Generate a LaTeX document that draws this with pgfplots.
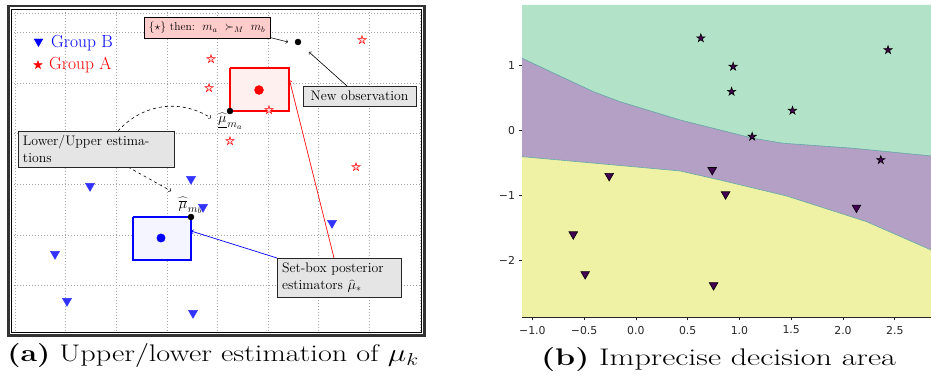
\documentclass[border=0pt]{standalone}
\usepackage{fontspec}
\usepackage{graphicx}
\usepackage{pgfplots}
\pgfplotsset{compat=1.18}
\newfontfamily\dejavu{DejaVu Sans}
\definecolor{cgreen}{RGB}{178,227,200}
\definecolor{cpurple}{RGB}{179,160,196}
\definecolor{cyellow}{RGB}{239,241,165}
\definecolor{vpurple}{RGB}{68,1,84}
\definecolor{cline}{RGB}{95,165,165}
\pgfdeclareplotmark{fivestar}{%
  \pgfpathmoveto{\pgfpointpolar{90}{\pgfplotmarksize}}%
  \pgfpathlineto{\pgfpointpolar{126}{0.382\pgfplotmarksize}}%
  \pgfpathlineto{\pgfpointpolar{162}{\pgfplotmarksize}}%
  \pgfpathlineto{\pgfpointpolar{198}{0.382\pgfplotmarksize}}%
  \pgfpathlineto{\pgfpointpolar{234}{\pgfplotmarksize}}%
  \pgfpathlineto{\pgfpointpolar{270}{0.382\pgfplotmarksize}}%
  \pgfpathlineto{\pgfpointpolar{306}{\pgfplotmarksize}}%
  \pgfpathlineto{\pgfpointpolar{342}{0.382\pgfplotmarksize}}%
  \pgfpathlineto{\pgfpointpolar{18}{\pgfplotmarksize}}%
  \pgfpathlineto{\pgfpointpolar{54}{0.382\pgfplotmarksize}}%
  \pgfpathclose
  \pgfusepathqfillstroke
}
\tikzset{
  gbox/.style={draw=black!85, line width=0.9pt, fill=black!10, inner xsep=5pt, inner ysep=3pt, align=left, font=\fontsize{13.8}{16.5}\selectfont},
}
\begin{document}
\begin{tikzpicture}
\path[use as bounding box] (0pt,0pt) rectangle (931pt,385pt);
% ---------------- panel (a) ----------------
\begin{axis}[
  at={(11pt,53pt)}, anchor=south west, scale only axis,
  width=410pt, height=323pt,
  xmin=11, xmax=421, ymin=9, ymax=332, y dir=reverse,
  clip=false,
  xtick={15,65.6,116.2,166.8,217.4,268,318.6,369.2,419.8},
  ytick={13.3,32.3,83,133.7,184.4,235,285.7},
  xticklabels={}, yticklabels={},
  major tick length=0pt, tick style={draw=none},
  grid=major,
  grid style={gray!70, line width=0.6pt, dash pattern=on 0.7pt off 2.3pt},
  axis line style={line width=0.8pt, black},
  axis background/.style={fill=white},
]
% outer frame
\draw[line width=2.6pt, black!80] (axis cs:8.7,6.2) rectangle (axis cs:424.3,335.3);
% set boxes
\addplot[draw=red, fill=red!6, line width=1.1pt] coordinates {(230,68) (289,68) (289,111) (230,111) (230,68)};
\addplot[draw=blue, fill=blue!4, line width=1.1pt] coordinates {(133,217) (191,217) (191,260) (133,260) (133,217)};
% Group B
\addplot[only marks, mark=triangle*, mark size=5.3pt, mark options={rotate=180, fill=blue!80, draw=blue!80}] coordinates {(90,186) (191,179) (203,207) (55,254) (67,301) (193,313) (332,223)};
% Group A
\addplot[only marks, mark=fivestar, mark size=4.3pt, mark options={draw=red, fill=red!15, line width=0.5pt}] coordinates {(362,40) (211,59) (209,88) (269,110) (230,141) (356,167)};
% legend marks
\addplot[only marks, mark=triangle*, mark size=5pt, mark options={rotate=180, fill=blue, draw=blue}] coordinates {(38.5,41.5)};
\addplot[only marks, mark=fivestar, mark size=4.3pt, mark options={draw=red, fill=red, line width=0.4pt}] coordinates {(38,65)};
% centres
\addplot[only marks, mark=*, mark size=4.5pt, red] coordinates {(259,90)};
\addplot[only marks, mark=*, mark size=4.2pt, blue] coordinates {(161,238)};
% black dots
\addplot[only marks, mark=*, mark size=3pt, black] coordinates {(230,111) (191,217) (298,42)};
% legend text
\node[anchor=base west, inner sep=0pt, text=blue, font=\fontsize{17.5}{20}\selectfont] at (axis cs:51,48) {Group B};
\node[anchor=base west, inner sep=0pt, text=red, font=\fontsize{17.5}{20}\selectfont] at (axis cs:49,70) {Group A};
% labels
\node[anchor=north, inner sep=0pt, font=\fontsize{15.5}{18}\selectfont] at (axis cs:230,113) {$\widehat{\mkern1mu\underline{\mu}\mkern1mu}_{m_a}$};
\node[anchor=south, inner sep=0pt, font=\fontsize{15.5}{18}\selectfont] at (axis cs:190,214) {$\widehat{\mkern1mu\overline{\mu}\mkern1mu}_{m_b}$};
% arrows
\draw[->, line width=0.6pt] (axis cs:268,37) -- (axis cs:288,42);
\draw[->, line width=0.6pt] (axis cs:347,86) -- (axis cs:309,52);
\draw[->, line width=0.6pt, dash pattern=on 3pt off 3pt] (axis cs:118,131) to[bend left=40] (axis cs:211,118);
\draw[->, line width=0.6pt, dash pattern=on 3pt off 3pt] (axis cs:128,167) -- (axis cs:171,191);
\draw[->, blue, line width=0.7pt] (axis cs:277,258) -- (axis cs:191,231);
\draw[->, red, line width=0.7pt] (axis cs:334,258) -- (axis cs:289.5,80);
% text boxes
\node[draw=black, line width=0.8pt, fill=red!20, minimum width=126pt, minimum height=21pt, inner sep=2pt, font=\fontsize{11.5}{13}\selectfont] at (axis cs:207,27.5) {\{$\star$\} then:\ \ $m_a\ \succ_M\ m_b$};
\node[gbox, minimum width=113pt, minimum height=20pt] at (axis cs:359.5,96) {New observation};
\node[gbox, text width=146pt, minimum height=36pt] at (axis cs:96,149) {Lower/Upper estima-\\tions};
\node[gbox, text width=114pt, minimum height=39pt] at (axis cs:339,277.5) {Set-box posterior\\estimators $\widehat{\mu}_*$};
\end{axis}
% ---------------- panel (b) ----------------
\begin{axis}[
  at={(522pt,68pt)}, anchor=south west, scale only axis,
  width=409pt, height=312pt,
  xmin=-1.10, xmax=2.85, ymin=-2.87, ymax=1.93,
  axis x line*=box, axis y line*=left,
  tick pos=left, tick align=outside, major tick length=3.5pt,
  tick style={black!85, line width=0.8pt},
  axis line style={black!85, line width=0.8pt},
  xtick={-1,-0.5,0,0.5,1,1.5,2,2.5},
  xticklabels={−1.0,−0.5,0.0,0.5,1.0,1.5,2.0,2.5},
  ytick={-2,-1,0,1},
  yticklabels={−2,−1,0,1},
  xticklabel style={font=\dejavu\fontsize{10.9}{12}\selectfont, text=black!85, yshift=-2pt},
  yticklabel style={font=\dejavu\fontsize{10.9}{12}\selectfont, text=black!85},
]
\addplot[fill=cgreen, draw=none] coordinates {(-1.10,1.111) (-0.412,0.597) (-0.154,0.443) (0.425,0.162) (1.132,-0.120) (1.422,-0.197) (2.098,-0.274) (2.85,-0.392) (2.85,1.93) (-1.10,1.93)};
\addplot[fill=cpurple, draw=none] coordinates {(-1.10,1.111) (-0.412,0.597) (-0.154,0.443) (0.425,0.162) (1.132,-0.120) (1.422,-0.197) (2.098,-0.274) (2.85,-0.392) (2.85,-1.838) (2.227,-1.403) (1.455,-1.008) (0.811,-0.762) (0.425,-0.623) (-1.10,-0.403)};
\addplot[fill=cyellow, draw=none] coordinates {(-1.10,-0.403) (0.425,-0.623) (0.811,-0.762) (1.455,-1.008) (2.227,-1.403) (2.85,-1.838) (2.85,-2.87) (-1.10,-2.87)};
\addplot[cline, line width=0.6pt] coordinates {(-1.10,1.111) (-0.412,0.597) (-0.154,0.443) (0.425,0.162) (1.132,-0.120) (1.422,-0.197) (2.098,-0.274) (2.85,-0.392)};
\addplot[cline, line width=0.6pt] coordinates {(-1.10,-0.403) (0.425,-0.623) (0.811,-0.762) (1.455,-1.008) (2.227,-1.403) (2.85,-1.838)};
% class A (stars)
\addplot[only marks, mark=fivestar, mark size=4.3pt, mark options={fill=vpurple, draw=black, line width=0.6pt}] coordinates {(0.627,1.42) (2.435,1.238) (0.939,0.982) (0.924,0.597) (1.512,0.305) (1.123,-0.095) (2.365,-0.454)};
% class B (triangles)
\addplot[only marks, mark=triangle*, mark size=5pt, mark options={rotate=180, fill=vpurple, draw=black, line width=0.6pt}] coordinates {(-0.258,-0.70) (0.737,-0.608) (0.866,-0.982) (2.130,-1.187) (-0.605,-1.597) (-0.49,-2.21) (0.75,-2.38)};
\end{axis}
% captions
\node[anchor=base, inner sep=0pt] at (213pt,23pt) {\scalebox{1.26}[1]{\fontsize{24}{27}\selectfont\textbf{(a)} Upper/lower estimation of $\mu_k$}};
\node[anchor=base, inner sep=0pt] at (718.5pt,19pt) {\scalebox{1.34}[1]{\fontsize{24}{27}\selectfont\textbf{(b)} Imprecise decision area}};
\end{tikzpicture}
\end{document}
